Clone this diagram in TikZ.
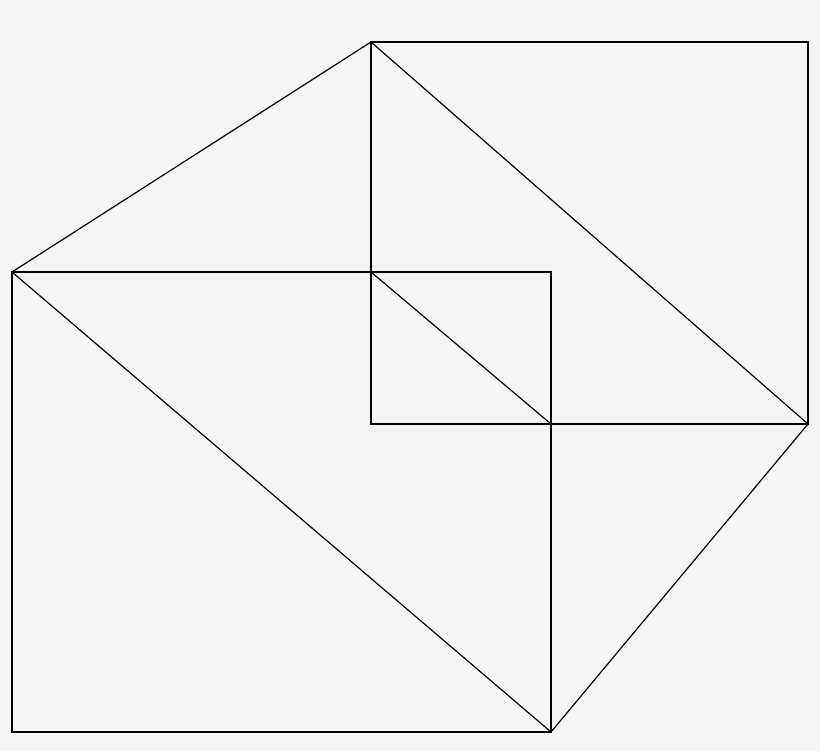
\documentclass[tikz,border=0pt]{standalone}
\usetikzlibrary{positioning}
\definecolor{bggray}{RGB}{245,245,245}
\begin{document}
\begin{tikzpicture}[x=0.01cm,y=-0.01cm,
  edge/.style={line width=0.02cm},
  diag/.style={line width=0.012cm}]
\fill[bggray] (0,0) rectangle (820,751);
\useasboundingbox (0,0) rectangle (820,751);
% lower rectangle and its diagonal

  \coordinate (a) at (12,272); \coordinate (c) at (551,732);
  \draw[edge] (a) rectangle (c);
  \draw[diag] (a) -- (c);

% upper rectangle and its diagonal

  \coordinate (b) at (371,42); \coordinate (d) at (808,424);
  \draw[edge] (b) rectangle (d);
  \draw[diag] (b) -- (d);

% small overlap and the two slanted sides

  \coordinate (e) at (371,272); \coordinate (f) at (551,424);
  \draw[diag] (e) -- (f);
  \draw[diag] (a) -- (b);
  \draw[diag] (d) -- (c);
\end{tikzpicture}
\end{document}
